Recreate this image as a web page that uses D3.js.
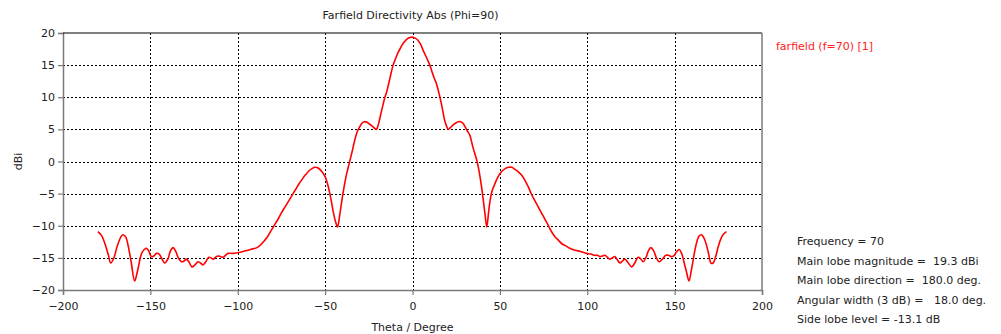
<!DOCTYPE html>
<html>
<head>
<meta charset="utf-8">
<script src="https://cdn.jsdelivr.net/npm/d3@7"></script>
<style>
  body { margin: 0; background: #fff; }
  svg text { font-family: "DejaVu Sans", Verdana, sans-serif; font-size: 11px; fill: #222; white-space: pre; }
</style>
</head>
<body>
<div id="chart"></div>
<script>
// farfield cut, phi = 90
var theta = [
  -180, -178, -176, -174, -172.7, -171, -169, -167, -165.7, -164, -162.8, -161, -159, -157.5, -156, -155, -153.5, -152.3, -151, -149.4,
  -148, -146.5, -145, -143.5, -141.8, -140, -138.5, -137, -135.5, -134, -132.2, -130.8, -129.4, -128, -126.2, -124.5, -122.7, -121.3, -119.9, -118.3,
  -116.6, -115.3, -114.1, -112.7, -111.3, -109.8, -108.4, -107, -105.5, -103, -100, -97, -94, -91.5, -89, -87, -85, -83, -81, -79,
  -77, -75, -73, -71, -69, -67, -65, -63, -61, -59, -57.5, -55.9, -54, -52.1, -50.8, -49.6, -48.4, -47.3, -46.3, -45.4,
  -44.2, -42.9, -41.8, -40.6, -39.5, -38.5, -37.5, -36.5, -35.5, -34.5, -33.5, -32.5, -31.5, -30, -28.8, -27.7, -26, -24.5, -23, -21.8,
  -20.6, -19.6, -18.7, -17.8, -16.8, -15.9, -14.9, -14, -13.2, -12.3, -11.1, -10, -9, -8, -7, -5.8, -4.4, -3, -1.5, 0,
  1.5, 3, 4.5, 6.1, 7.5, 8.8, 9.9, 11, 12.4, 13.7, 15, 16.6, 17.6, 18.5, 19.5, 20.4, 21.8, 23.3, 24.8, 26.2,
  27.6, 29, 30.3, 31.5, 32.8, 33.8, 34.8, 35.7, 36.6, 37.6, 38.6, 39.5, 40.5, 41.5, 42.5, 43.5, 44.5, 45.6, 47.1, 48.7,
  50.9, 53, 55, 56.8, 58.5, 60.5, 62.4, 64.5, 66.2, 68.1, 70, 72, 74, 76, 77.6, 79.5, 81.5, 83.3, 85.5, 87.5,
  90, 93, 96, 99.6, 102, 104.3, 105.8, 107.2, 108.6, 110.1, 111.5, 112.9, 114.3, 115.8, 117.2, 118.7, 120.1, 121.5, 123.5, 125.4,
  127.2, 129.1, 130.5, 132, 133.5, 135, 136.4, 138, 139.6, 141.2, 143, 145, 146.5, 147.9, 149.5, 151, 152.6, 154, 155.3, 156.8,
  158.2, 159.6, 161, 162.5, 164, 165.3, 166.6, 168, 169.5, 170.8, 172.1, 173.5, 175, 176.5, 178, 179.7
];
var dbi = [
  -10.9, -11.5, -12.8, -14.6, -15.8, -15.1, -13.2, -11.8, -11.4, -11.8, -13.0, -15.6, -18.6, -17.2, -15.3, -14.3, -13.7, -13.5, -13.9, -14.8,
  -14.7, -14.3, -14.4, -15.1, -15.8, -15.2, -13.9, -13.4, -14.0, -15.0, -15.6, -15.5, -15.2, -15.6, -16.4, -16.1, -15.6, -15.8, -16.1, -15.6,
  -14.9, -15.0, -15.2, -14.9, -14.7, -14.8, -14.9, -14.6, -14.3, -14.3, -14.2, -14.0, -13.8, -13.6, -13.4, -13.0, -12.4, -11.7, -10.8, -9.9,
  -9.0, -8.0, -7.1, -6.2, -5.3, -4.4, -3.5, -2.7, -2.0, -1.4, -1.1, -0.9, -1.0, -1.5, -2.0, -2.6, -3.7, -5.0, -6.4, -7.8,
  -9.2, -10.2, -8.6, -6.4, -4.5, -3.0, -1.7, -0.6, 0.5, 1.6, 2.8, 3.9, 4.7, 5.5, 6.0, 6.2, 6.1, 5.8, 5.5, 5.2,
  5.0, 5.7, 6.7, 7.8, 8.9, 9.9, 10.7, 11.7, 12.6, 13.7, 15.0, 15.8, 16.5, 17.1, 17.6, 18.2, 18.7, 19.1, 19.3, 19.35,
  19.2, 18.9, 18.3, 17.3, 16.5, 15.7, 15.0, 14.1, 13.0, 12.1, 10.8, 8.9, 7.5, 6.3, 5.5, 5.0, 5.3, 5.7, 6.0, 6.2,
  6.2, 5.9, 5.3, 4.7, 4.1, 3.1, 2.0, 1.2, 0.4, -0.8, -2.3, -3.9, -6.0, -8.2, -10.2, -8.0, -5.9, -4.5, -3.5, -2.5,
  -1.6, -1.1, -0.9, -0.9, -1.2, -1.6, -2.1, -3.0, -3.9, -5.1, -6.1, -7.1, -8.1, -9.1, -9.9, -10.9, -11.7, -12.2, -12.8, -13.1,
  -13.5, -13.8, -14.0, -14.3, -14.4, -14.6, -14.6, -14.8, -14.7, -14.6, -14.9, -15.2, -15.0, -14.8, -15.3, -15.8, -15.5, -15.2, -15.8, -16.4,
  -15.8, -14.9, -15.1, -15.6, -15.0, -13.9, -13.4, -13.9, -15.0, -15.6, -15.2, -14.6, -14.6, -14.8, -14.7, -14.1, -13.7, -14.3, -15.6, -17.2,
  -18.6, -16.9, -14.7, -12.7, -11.6, -11.4, -11.8, -12.8, -14.4, -15.8, -15.8, -14.8, -13.2, -12.0, -11.3, -10.9
];

var xTicks = [-200, -150, -100, -50, 0, 50, 100, 150, 200];
var yTicks = [20, 15, 10, 5, 0, -5, -10, -15, -20];
var seriesName = "farfield (f=70) [1]";
var infoLines = [
  "Frequency = 70",
  "Main lobe magnitude =  19.3 dBi",
  "Main lobe direction =  180.0 deg.",
  "Angular width (3 dB) =   18.0 deg.",
  "Side lobe level = -13.1 dB"
];

var width = 1001, height = 334;
var margin = {left: 63, right: 239, top: 33, bottom: 44};

var svg = d3.select("#chart").append("svg")
  .attr("width", width)
  .attr("height", height);

var x = d3.scaleLinear().domain([-200, 200]).range([margin.left, width - margin.right]);
var y = d3.scaleLinear().domain([-20, 20]).range([height - margin.bottom, margin.top]);

// dashed grid
svg.append("g")
  .selectAll("line")
  .data(xTicks.slice(1, -1))
  .enter().append("line")
  .attr("x1", function (d) { return Math.round(x(d)) + 0.5; })
  .attr("x2", function (d) { return Math.round(x(d)) + 0.5; })
  .attr("y1", y(20))
  .attr("y2", y(-20))
  .attr("stroke", "#000")
  .attr("stroke-dasharray", "2,2");

svg.append("g")
  .selectAll("line")
  .data(yTicks.slice(1, -1))
  .enter().append("line")
  .attr("x1", x(-200))
  .attr("x2", x(200))
  .attr("y1", function (d) { return Math.round(y(d)) + 0.5; })
  .attr("y2", function (d) { return Math.round(y(d)) + 0.5; })
  .attr("stroke", "#000")
  .attr("stroke-dasharray", "2,2");

// axes
var xAxis = d3.axisBottom(x).tickValues(xTicks).tickSize(5).tickPadding(7);
var yAxis = d3.axisLeft(y).tickValues(yTicks).tickSize(5).tickPadding(3);

var gx = svg.append("g")
  .attr("transform", "translate(0," + Math.round(y(-20)) + ")")
  .call(xAxis);
var gy = svg.append("g")
  .attr("transform", "translate(" + Math.round(x(-200)) + ",0)")
  .call(yAxis);

[gx, gy].forEach(function (g) {
  g.select(".domain").attr("stroke", "#7a7a7a").attr("stroke-width", 1.5);
  g.selectAll(".tick line").attr("stroke", "#7a7a7a").attr("stroke-width", 1.2);
  g.selectAll(".tick text").attr("fill", "#222").style("font-size", "11px")
    .style("font-family", "'DejaVu Sans', Verdana, sans-serif");
});

// frame: black top, grey right
svg.append("line")
  .attr("x1", x(-200)).attr("x2", x(200))
  .attr("y1", y(20)).attr("y2", y(20))
  .attr("stroke", "#000").attr("stroke-width", 1.2);
svg.append("line")
  .attr("x1", x(200)).attr("x2", x(200))
  .attr("y1", y(20)).attr("y2", y(-20))
  .attr("stroke", "#7a7a7a").attr("stroke-width", 1.5);

// the curve
var line = d3.line()
  .x(function (d, i) { return x(theta[i]); })
  .y(function (d) { return y(d); })
  .curve(d3.curveCatmullRom.alpha(0.5));

svg.append("path")
  .datum(dbi)
  .attr("fill", "none")
  .attr("stroke", "#ff0000")
  .attr("stroke-width", 1.6)
  .attr("stroke-linejoin", "round")
  .attr("d", line);

// texts
svg.append("text")
  .attr("x", x(0) - 2)
  .attr("y", 19)
  .attr("text-anchor", "middle")
  .text("Farfield Directivity Abs (Phi=90)");

svg.append("text")
  .attr("x", x(0))
  .attr("y", 331)
  .attr("text-anchor", "middle")
  .text("Theta / Degree");

svg.append("text")
  .attr("transform", "translate(22," + y(0) + ") rotate(-90)")
  .attr("text-anchor", "middle")
  .text("dBi");

svg.append("text")
  .attr("x", 776)
  .attr("y", 50)
  .style("fill", "#ff2020")
  .text(seriesName);

svg.append("g")
  .selectAll("text")
  .data(infoLines)
  .enter().append("text")
  .attr("x", 797)
  .attr("y", function (d, i) { return 245 + i * 19.5; })
  .text(function (d) { return d; });
</script>
</body>
</html>
